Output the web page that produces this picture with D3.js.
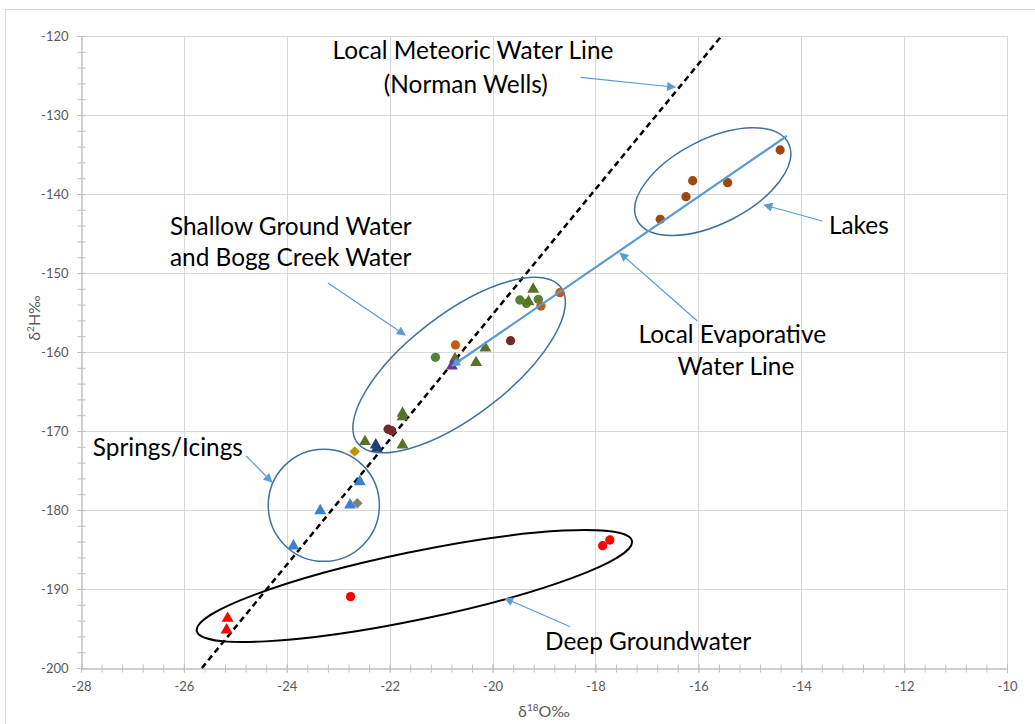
<!DOCTYPE html>
<html>
<head>
<meta charset="utf-8">
<script src="https://cdn.jsdelivr.net/npm/d3@7"></script>
<style>
body { margin: 0; background: #fff; }
svg { display: block; }
.axis text { font-family: Lato, "Open Sans", sans-serif; font-size: 13px; fill: #595959; }
.note { font-family: Lato, "Open Sans", sans-serif; font-size: 24.4px; fill: #000; }
.title { font-family: Lato, "Open Sans", sans-serif; font-size: 16px; fill: #595959; }
</style>
</head>
<body>
<div id="chart"></div>
<script>
// tick values
var xTicks = [-28, -26, -24, -22, -20, -18, -16, -14, -12, -10];
var yTicks = [-200, -190, -180, -170, -160, -150, -140, -130, -120];

// samples, [d18O, d2H]
var lakes = [[-14.41, -134.43], [-16.11, -138.32], [-15.43, -138.57], [-16.24, -140.34], [-16.74, -143.2]];
var shallowOrange = [[-18.69, -152.49], [-19.06, -154.18], [-20.72, -159.11]];
var shallowGreen = [[-19.47, -153.42], [-19.34, -153.84], [-19.11, -153.33], [-21.11, -160.67]];
var shallowGreenTri = [[-19.21, -152.06], [-19.30, -153.63], [-20.14, -159.49], [-20.32, -161.35], [-20.73, -160.85],
                       [-21.75, -167.76], [-21.75, -168.19], [-22.48, -171.35], [-21.75, -171.77]];
var creekMaroon = [[-19.65, -158.57], [-22.03, -169.78], [-21.96, -169.96]];
var purpleTri = [[-20.79, -161.77]];
var navyTri = [[-22.27, -171.77], [-22.25, -172.19]];
var goldDiamond = [[-22.68, -172.59]];
var springsTri = [[-22.58, -176.42], [-22.77, -179.37], [-23.35, -180.09], [-23.87, -184.56]];
var grayDiamond = [[-22.63, -179.15]];
var deepTri = [[-25.15, -193.71], [-25.17, -195.19]];
var deepCircles = [[-22.76, -190.97], [-17.86, -184.52], [-17.72, -183.8]];

// lines
var lmwl = [[-25.65, -200], [-15.55, -120]];
var lel = [[-20.79, -161.77], [-14.28, -132.66]];

// ellipse groups: centre, semi axes (in d18O units), tilt
var groups = [
    {name: 'lakes',   cx: -15.72, cy: -138.44, a: 1.65, b: 0.82, tilt: 27},
    {name: 'shallow', cx: -20.65, cy: -161.65, a: 2.49, b: 0.99, tilt: 37.5},
    {name: 'springs', cx: -23.28, cy: -179.4,  a: 1.08, b: 1.09, tilt: 0},
    {name: 'deep',    cx: -21.52, cy: -189.62, a: 4.32, b: 0.66, tilt: 11.7}
];

// callout arrows: tail -> head
var callouts = [
    [[-18.29, -125.23], [-16.45, -126.49]],
    [[-13.59, -143.42], [-14.72, -141.39]],
    [[-16.02, -156.08], [-17.52, -147.47]],
    [[-23.2, -151.27], [-21.7, -157.85]],
    [[-24.79, -173.16], [-24.29, -176.46]],
    [[-18.49, -194.77], [-19.76, -191.18]]
];

var labels = [
    {text: 'Local Meteoric Water Line', x: -20.38, y: -121.77, anchor: 'middle'},
    {text: '(Norman Wells)', x: -20.52, y: -125.95, anchor: 'middle'},
    {text: 'Lakes', x: -12.88, y: -143.92, anchor: 'middle'},
    {text: 'Shallow Ground Water', x: -26.27, y: -144.05, anchor: 'start'},
    {text: 'and Bogg Creek Water', x: -26.27, y: -147.85, anchor: 'start'},
    {text: 'Local Evaporative', x: -15.34, y: -157.72, anchor: 'middle'},
    {text: 'Water Line', x: -15.27, y: -161.77, anchor: 'middle'},
    {text: 'Springs/Icings', x: -27.77, y: -171.9, anchor: 'start'},
    {text: 'Deep Groundwater', x: -18.98, y: -196.46, anchor: 'start'}
];

var W = 1035, H = 724;
var plot = {left: 81, right: 1007, top: 36, bottom: 668};

var svg = d3.select('#chart').append('svg')
    .attr('width', W)
    .attr('height', H);

// chart area border
svg.append('rect')
    .attr('x', 5.5).attr('y', 9.5)
    .attr('width', 1100).attr('height', 800)
    .attr('fill', 'none').attr('stroke', '#d9d9d9');

var x = d3.scaleLinear().domain([-28, -10]).range([plot.left, plot.right]);
var y = d3.scaleLinear().domain([-200, -120]).range([plot.bottom, plot.top]);

var defs = svg.append('defs');
defs.append('marker')
    .attr('id', 'head')
    .attr('viewBox', '0 0 10 10')
    .attr('refX', 9).attr('refY', 5)
    .attr('markerUnits', 'userSpaceOnUse')
    .attr('markerWidth', 11).attr('markerHeight', 9)
    .attr('orient', 'auto')
  .append('path')
    .attr('d', 'M0,0L10,5L0,10Z')
    .attr('fill', '#5b9bd5');
defs.append('marker')
    .attr('id', 'lelhead')
    .attr('viewBox', '0 0 10 10')
    .attr('refX', 1).attr('refY', 5)
    .attr('markerUnits', 'userSpaceOnUse')
    .attr('markerWidth', 10).attr('markerHeight', 9)
    .attr('orient', 'auto')
  .append('path')
    .attr('d', 'M10,0L0,5L10,10Z')
    .attr('fill', '#5b9bd5');

// gridlines
svg.append('g').selectAll('line')
    .data(yTicks.slice(1))
    .enter().append('line')
        .attr('x1', plot.left).attr('x2', plot.right)
        .attr('y1', function(d){ return Math.round(y(d)) + 0.5; })
        .attr('y2', function(d){ return Math.round(y(d)) + 0.5; })
        .attr('stroke', '#d9d9d9');
svg.append('g').selectAll('line')
    .data(xTicks.slice(1))
    .enter().append('line')
        .attr('y1', plot.top).attr('y2', plot.bottom)
        .attr('x1', function(d){ return Math.round(x(d)) + 0.5; })
        .attr('x2', function(d){ return Math.round(x(d)) + 0.5; })
        .attr('stroke', '#d9d9d9');

// axes
var xMinor = d3.range(0, 46).map(function(i){ return -28 + i * 0.4; });
var yMinor = d3.range(0, 41).map(function(i){ return -200 + i * 2; });

function crossTicks(g, horizontal){
    g.select('.domain').attr('stroke', '#bfbfbf');
    g.selectAll('.tick line').attr('stroke', '#bfbfbf');
    if(horizontal) g.selectAll('.tick line').attr('y1', -4);
    else g.selectAll('.tick line').attr('x1', 4);
}

svg.append('g')
    .attr('transform', 'translate(0,' + (plot.bottom + 0.5) + ')')
    .call(d3.axisBottom(x).tickValues(xMinor).tickSize(4).tickFormat(''))
    .call(function(g){ crossTicks(g, true); });
svg.append('g')
    .attr('class', 'axis')
    .attr('transform', 'translate(0,' + (plot.bottom + 0.5) + ')')
    .call(d3.axisBottom(x).tickValues(xTicks).tickSize(4).tickPadding(9).tickFormat(function(d){ return String(d); }))
    .call(function(g){ crossTicks(g, true); });

svg.append('g')
    .attr('transform', 'translate(' + (plot.left + 0.5) + ',0)')
    .call(d3.axisLeft(y).tickValues(yMinor).tickSize(4).tickFormat(''))
    .call(function(g){ crossTicks(g, false); });
svg.append('g')
    .attr('class', 'axis')
    .attr('transform', 'translate(' + (plot.left + 0.5) + ',0)')
    .call(d3.axisLeft(y).tickValues(yTicks).tickSize(4).tickPadding(9).tickFormat(function(d){ return String(d); }))
    .call(function(g){ crossTicks(g, false); });

// axis titles
var xt = svg.append('text').attr('class', 'title')
    .attr('x', (plot.left + plot.right) / 2).attr('y', 717)
    .attr('text-anchor', 'middle');
xt.append('tspan').text('δ');
xt.append('tspan').attr('font-size', '10px').attr('dy', -6).text('18');
xt.append('tspan').attr('dy', 6).text('O‰');

var yt = svg.append('text').attr('class', 'title')
    .attr('transform', 'translate(40,' + 318 + ') rotate(-90)')
    .attr('text-anchor', 'middle');
yt.append('tspan').text('δ');
yt.append('tspan').attr('font-size', '10px').attr('dy', -6).text('2');
yt.append('tspan').attr('dy', 6).text('H‰');

var line = d3.line()
    .x(function(d){ return x(d[0]); })
    .y(function(d){ return y(d[1]); });

// meteoric water line
svg.append('path')
    .attr('d', line(lmwl))
    .attr('fill', 'none')
    .attr('stroke', '#000')
    .attr('stroke-width', 2.5)
    .attr('stroke-dasharray', '6,4');

// ellipses
var unit = x(-27) - x(-28);
svg.append('g').selectAll('ellipse')
    .data(groups)
    .enter().append('ellipse')
        .attr('cx', 0).attr('cy', 0)
        .attr('rx', function(d){ return d.a * unit; })
        .attr('ry', function(d){ return d.b * unit; })
        .attr('transform', function(d){ return 'translate(' + x(d.cx) + ',' + y(d.cy) + ') rotate(' + (-d.tilt) + ')'; })
        .attr('fill', 'none')
        .attr('stroke', function(d){ return d.name == 'deep' ? '#000' : '#41719c'; })
        .attr('stroke-width', function(d){ return d.name == 'deep' ? 2 : 1.5; });

// points
var series = [
    {data: lakes, shape: d3.symbolCircle, color: '#9e480e'},
    {data: shallowGreen, shape: d3.symbolCircle, color: '#548235'},
    {data: shallowGreenTri, shape: d3.symbolTriangle, color: '#5a7128'},
    {data: shallowOrange, shape: d3.symbolCircle, color: '#c55a11'},
    {data: creekMaroon, shape: d3.symbolCircle, color: '#722a2a'},
    {data: purpleTri, shape: d3.symbolTriangle, color: '#7030a0'},
    {data: navyTri, shape: d3.symbolTriangle, color: '#203f7a'},
    {data: goldDiamond, shape: 'diamond', color: '#bf9000'},
    {data: springsTri, shape: d3.symbolTriangle, color: '#3a82d0'},
    {data: grayDiamond, shape: 'diamond', color: '#7f7f7f'},
    {data: deepTri, shape: d3.symbolTriangle, color: '#ff0000'},
    {data: deepCircles, shape: d3.symbolCircle, color: '#ff0000'}
];

series.forEach(function(s){
    var diamond = s.shape == 'diamond';
    var sym = d3.symbol()
        .type(diamond ? d3.symbolSquare : s.shape)
        .size(diamond ? 56 : (s.shape == d3.symbolCircle ? 68 : 62));
    svg.append('g').selectAll('path')
        .data(s.data)
        .enter().append('path')
            .attr('d', sym)
            .attr('transform', function(d){
                return 'translate(' + x(d[0]) + ',' + y(d[1]) + ')' + (diamond ? ' rotate(45)' : '');
            })
            .attr('fill', s.color);
});

// evaporative line
svg.append('path')
    .attr('d', line(lel))
    .attr('fill', 'none')
    .attr('stroke', '#5b9bd5')
    .attr('stroke-width', 2.2)
    .attr('marker-start', 'url(#lelhead)');

// callouts
svg.append('g').selectAll('path')
    .data(callouts)
    .enter().append('path')
        .attr('d', line)
        .attr('fill', 'none')
        .attr('stroke', '#5b9bd5')
        .attr('stroke-width', 1.2)
        .attr('marker-end', 'url(#head)');

svg.append('g').selectAll('text')
    .data(labels)
    .enter().append('text')
        .attr('class', 'note')
        .attr('x', function(d){ return x(d.x); })
        .attr('y', function(d){ return y(d.y); })
        .attr('dominant-baseline', 'central')
        .attr('text-anchor', function(d){ return d.anchor; })
        .text(function(d){ return d.text; });
</script>
</body>
</html>
